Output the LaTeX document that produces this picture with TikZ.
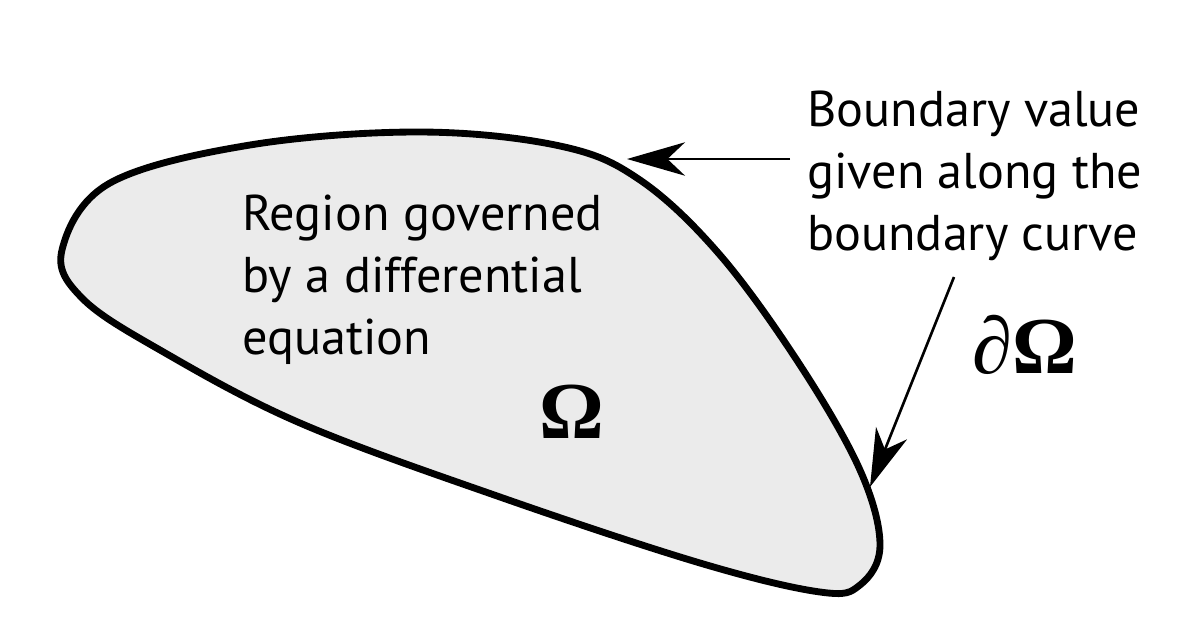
\documentclass[tikz,border=0pt]{standalone}
\usepackage{fontspec}
\setmainfont{PT Sans}
\newfontfamily\omegafont{Liberation Serif}
\usepackage{xcolor}
\usepackage{tikz}
\usetikzlibrary{arrows.meta}
\definecolor{regiongray}{HTML}{EBEBEB}
\tikzset{>={Stealth[length=33pt, width=19pt, inset=10pt]}}
\tikzstyle{region} = [draw=black, line width=3.9pt, fill=regiongray]
\tikzstyle{txt} = [draw=none, align=left, inner sep=0, anchor=north west, font=\fontsize{28.6}{35.2}\selectfont]
\tikzstyle{sym} = [draw=none, inner sep=0, font=\omegafont\fontsize{46}{50}\selectfont]
\tikzstyle{pointer} = [->, line width=1.5pt, draw=black]

\begin{document}
\begin{tikzpicture}[x=0.02cm, y=-0.02cm]
\useasboundingbox (0,0) rectangle (1178,640);
\draw [region] plot [smooth cycle, tension=0.6] coordinates {(62,250) (110,183) (250,145) (420,132) (560,146) (640,180) (720,255) (800,365) (860,470) (880,545) (860,585) (820,592) (700,563) (500,497) (300,423) (160,350) (82,298)};
\node [txt] (region) at (242,195) {Region governed\\by a differential\\equation};
\node [txt] (bv) at (807,91) {Boundary value\\given along the\\boundary curve};
\node [sym] (omega) at (572,412) {\textbf{Ω}};
\node [sym] (domega) at (1025,345) {∂\textbf{Ω}};
\coordinate (bvA) at (790,159);
\coordinate (tipA) at (627,159);
\coordinate (bvB) at (954,277);
\coordinate (tipB) at (870,487);
\draw [pointer] (bvA) to (tipA);
\draw [pointer] (bvB) to (tipB);
\end{tikzpicture}
\end{document}
